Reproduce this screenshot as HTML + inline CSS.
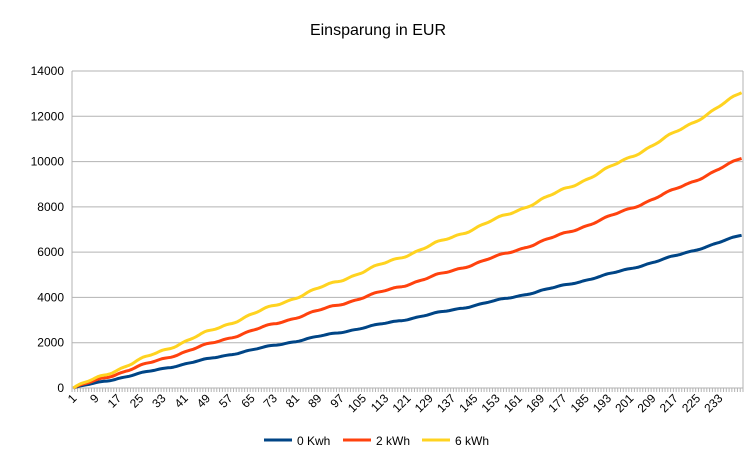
<!DOCTYPE html>
<html><head><meta charset="utf-8"><style>
body{margin:0;background:#fff;width:756px;height:454px;overflow:hidden;font-family:"Liberation Sans",sans-serif}
</style></head><body>
<svg id="s" width="756" height="454" xmlns="http://www.w3.org/2000/svg" font-family="Liberation Sans, sans-serif">
<rect width="756" height="454" fill="#fff"/>
<text x="378" y="35" font-size="16" text-anchor="middle" fill="#000">Einsparung in EUR</text>
<g id="g"></g>
<g font-size="12" fill="#000">
<line x1="264" y1="440" x2="292" y2="440" stroke="#004586" stroke-width="3"/><text x="297" y="445">0 Kwh</text>
<line x1="343" y1="440" x2="371" y2="440" stroke="#ff420e" stroke-width="3"/><text x="376" y="445">2 kWh</text>
<line x1="422" y1="440" x2="450" y2="440" stroke="#ffd320" stroke-width="3"/><text x="455" y="445">6 kWh</text>
</g>
</svg>
<script>
var g=document.getElementById('g'),h='';
var L=72,R=743,T=71,B=388,N=241,w=(R-L)/N;
function Y(v){return B-(v/14000)*(B-T);}
for(var i=0;i<=7;i++){var y=Y(i*2000);h+='<line x1="'+L+'" x2="'+R+'" y1="'+y+'" y2="'+y+'" stroke="#b3b3b3"/>';h+='<text x="64" y="'+(y+4)+'" font-size="12" text-anchor="end">'+(i*2000)+'</text>';}
h+='<line x1="'+R+'" x2="'+R+'" y1="'+T+'" y2="'+B+'" stroke="#b3b3b3"/>';
h+='<line x1="'+L+'" x2="'+L+'" y1="'+T+'" y2="'+B+'" stroke="#b3b3b3"/>';
for(var i=0;i<=N;i++){var x=L+i*w;h+='<line x1="'+x+'" x2="'+x+'" y1="'+B+'" y2="'+(B+4)+'" stroke="#b3b3b3"/>';}
for(var k=1;k<=233;k+=8){var x=L+(k-0.5)*w;h+='<text font-size="12" text-anchor="end" transform="translate('+(x+4)+','+(B+11)+') rotate(-45)">'+k+'</text>';}
function ser(end,c){var p='';for(var i=0;i<N;i++){var t=i/(N-1);var f=0.55*t+0.45*t*t+0.08*Math.sin(Math.PI*t)*(1-t)*1.6;var v=end*f+end*0.0035*Math.sin(i*0.3)+end*0.002*Math.sin(i*0.83);if(i==0)v=0;p+=(i?'L':'M')+(L+(i+0.5)*w).toFixed(1)+','+Y(v).toFixed(1);}
h+='<path d="'+p+'" fill="none" stroke="'+c+'" stroke-width="3" stroke-linejoin="round"/>';}
ser(6750,'#004586');ser(10150,'#ff420e');ser(13050,'#ffd320');
g.innerHTML=h;
</script>
</body></html>
